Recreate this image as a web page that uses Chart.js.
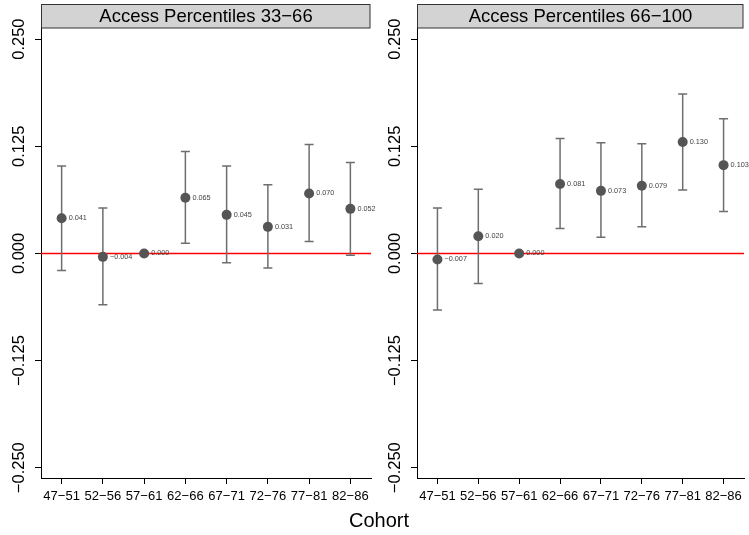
<!DOCTYPE html>
<html>
<head>
<meta charset="utf-8">
<script src="https://cdn.jsdelivr.net/npm/chart.js@4"></script>
<style>
  html, body { margin: 0; padding: 0; background: #fff; }
  #wrap { position: relative; width: 749px; height: 535px; overflow: hidden; font-family: "Liberation Sans", Arial, sans-serif; }
  canvas { position: absolute; top: 0; }
  #xtitle { position: absolute; left: 319px; width: 120px; top: 508px; text-align: center; font-size: 20px; line-height: 24px; color: #000; }
</style>
</head>
<body>
<div id="wrap">
  <canvas id="left-chart" width="376" height="535" style="left:0"></canvas>
  <canvas id="right-chart" width="373" height="535" style="left:376px"></canvas>
  <div id="xtitle">Cohort</div>
</div>
<script>
// Cohort labels and y ticks
const cohorts = ['47\u221251', '52\u221256', '57\u221261', '62\u221266', '67\u221271', '72\u221276', '77\u221281', '82\u221286'];
const yTicks = [-0.25, -0.125, 0, 0.125, 0.25];

// Access percentiles 33-66: estimate and interval bounds
const est33 = [0.041, -0.004, 0.000, 0.065, 0.045, 0.031, 0.070, 0.052];
const lo33 = [-0.020, -0.060, null, 0.012, -0.011, -0.017, 0.014, -0.002];
const hi33 = [0.102, 0.053, null, 0.119, 0.102, 0.080, 0.127, 0.106];

// Access percentiles 66-100
const est66 = [-0.007, 0.020, 0.000, 0.081, 0.073, 0.079, 0.130, 0.103];
const lo66 = [-0.066, -0.035, null, 0.029, 0.019, 0.031, 0.074, 0.049];
const hi66 = [0.053, 0.075, null, 0.134, 0.129, 0.128, 0.186, 0.157];

const FONT = '"Liberation Sans", Arial, sans-serif';

function fmt(v) {
    return (v < 0 ? '\u2212' : '') + Math.abs(v).toFixed(3);
}

// draws zero line, error bars, value labels, strip header and rotated y labels
const panelPlugin = {
    id: 'panel',
    beforeDatasetsDraw(chart) {
        const { ctx, chartArea: a, scales: { x, y } } = chart;
        const ds = chart.data.datasets[0];
        ctx.save();
        const y0 = y.getPixelForValue(0);
        ctx.strokeStyle = '#ff0000';
        ctx.lineWidth = 1.5;
        ctx.beginPath();
        ctx.moveTo(a.left, y0);
        ctx.lineTo(a.right, y0);
        ctx.stroke();

        ctx.strokeStyle = '#6e6e6e';
        ctx.lineWidth = 1.5;
        ds.lo.forEach((lo, i) => {
            const hi = ds.hi[i];
            if (lo === null || hi === null) return;
            const px = x.getPixelForValue(i);
            const pl = y.getPixelForValue(lo);
            const ph = y.getPixelForValue(hi);
            ctx.beginPath();
            ctx.moveTo(px, pl); ctx.lineTo(px, ph);
            ctx.moveTo(px - 4.5, pl); ctx.lineTo(px + 4.5, pl);
            ctx.moveTo(px - 4.5, ph); ctx.lineTo(px + 4.5, ph);
            ctx.stroke();
        });
        ctx.restore();
    },
    afterDatasetsDraw(chart) {
        const { ctx, scales: { x, y } } = chart;
        const ds = chart.data.datasets[0];
        ctx.save();
        ctx.font = '7.3px ' + FONT;
        ctx.fillStyle = '#444';
        ctx.textAlign = 'left';
        ctx.textBaseline = 'middle';
        ds.data.forEach((v, i) => {
            ctx.fillText(fmt(v), x.getPixelForValue(i) + 7, y.getPixelForValue(v));
        });
        ctx.restore();
    },
    afterDraw(chart, args, opts) {
        const { ctx, chartArea: a, scales: { y } } = chart;
        ctx.save();
        // strip header
        ctx.fillStyle = '#d3d3d3';
        ctx.fillRect(a.left, 4, a.right - a.left - 1, 24);
        ctx.strokeStyle = '#333';
        ctx.lineWidth = 1;
        ctx.strokeRect(a.left + 0.5, 4.5, a.right - a.left - 1.5, 23.5);
        ctx.fillStyle = '#000';
        ctx.font = '18.5px ' + FONT;
        ctx.textAlign = 'center';
        ctx.textBaseline = 'middle';
        ctx.fillText(opts.title, (a.left + a.right) / 2, 17);

        // rotated y tick labels
        ctx.font = '16.5px ' + FONT;
        yTicks.forEach(v => {
            ctx.save();
            ctx.translate(a.left - 22, y.getPixelForValue(v));
            ctx.rotate(-Math.PI / 2);
            ctx.fillText(fmt(v), 0, 0);
            ctx.restore();
        });
        ctx.restore();
    }
};

function makePanel(canvasId, title, est, lo, hi, padRight) {
    const canvas = document.getElementById(canvasId);
    return new Chart(canvas, {
        type: 'line',
        data: {
            labels: cohorts,
            datasets: [{
                data: est,
                lo: lo,
                hi: hi,
                showLine: false,
                pointRadius: 5,
                pointHoverRadius: 5,
                pointBorderWidth: 0,
                pointBackgroundColor: '#555555',
                borderColor: '#555555'
            }]
        },
        options: {
            responsive: false,
            maintainAspectRatio: false,
            animation: false,
            layout: { padding: { left: 0, right: padRight, top: 28, bottom: 0 } },
            scales: {
                x: {
                    type: 'category',
                    offset: true,
                    afterFit: scale => { scale.height = 57; },
                    grid: { display: true, drawOnChartArea: false, drawTicks: true, tickLength: 6, color: '#000', lineWidth: 1 },
                    border: { display: true, color: '#000', width: 1 },
                    ticks: { color: '#000', font: { family: FONT, size: 13 }, padding: 5, maxRotation: 0, autoSkip: false }
                },
                y: {
                    type: 'linear',
                    min: -0.262,
                    max: 0.263,
                    afterFit: scale => { scale.width = 41; },
                    afterBuildTicks: scale => { scale.ticks = yTicks.map(v => ({ value: v })); },
                    grid: { display: true, drawOnChartArea: false, drawTicks: true, tickLength: 6, color: '#000', lineWidth: 1 },
                    border: { display: true, color: '#000', width: 1 },
                    ticks: { display: false }
                }
            },
            plugins: {
                legend: { display: false },
                tooltip: { enabled: false },
                panel: { title: title }
            }
        },
        plugins: [panelPlugin]
    });
}

makePanel('left-chart', 'Access Percentiles 33\u221266', est33, lo33, hi33, 4);
makePanel('right-chart', 'Access Percentiles 66\u2212100', est66, lo66, hi66, 1);
</script>
</body>
</html>
